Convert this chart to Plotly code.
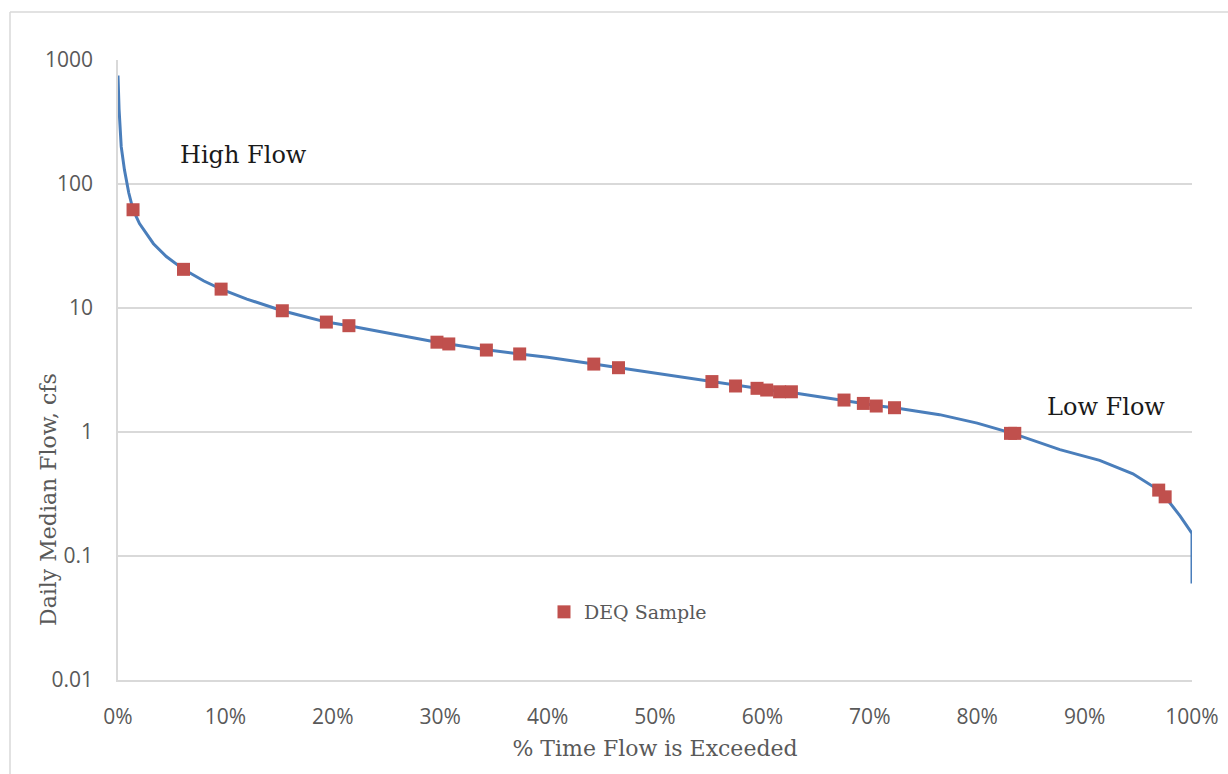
import plotly.graph_objects as go

# Flow duration curve (percent of time exceeded, daily median flow in cfs)
curve_pct = [0, 0.1, 0.3, 0.6, 1.0, 1.4, 2.0, 3.3, 4.5, 6.1, 8.0, 9.6, 12, 15.3, 17, 19.4,
             21.5, 25, 29.7, 30.8, 34.3, 37.4, 40, 44.3, 46.6, 49.5, 52, 55.3, 57.5, 59.5,
             61.6, 62.7, 65, 67.6, 69.4, 70.6, 72.3, 76.5, 80, 83.3, 87.7, 91.4, 94.5,
             96.9, 97.5, 98.9, 100, 100]
curve_flow = [750, 400, 200, 130, 85, 62, 48, 33, 26, 20.5, 16.5, 14.2, 11.8, 9.5, 8.7, 7.7,
              7.2, 6.3, 5.3, 5.13, 4.6, 4.26, 4.0, 3.53, 3.3, 3.0, 2.8, 2.55, 2.38, 2.25,
              2.12, 2.08, 1.95, 1.81, 1.70, 1.63, 1.57, 1.38, 1.18, 0.975, 0.72, 0.59, 0.46,
              0.34, 0.30, 0.21, 0.152, 0.06]

# DEQ samples
sample_pct = [1.4, 6.1, 9.6, 15.3, 19.4, 21.5, 29.7, 30.8, 34.3, 37.4, 44.3, 46.6,
              55.3, 57.5, 59.5, 60.4, 61.6, 62.7, 67.6, 69.4, 70.6, 72.3, 83.1, 83.5,
              96.9, 97.5]
sample_flow = [62, 20.5, 14.2, 9.5, 7.7, 7.2, 5.3, 5.13, 4.58, 4.26, 3.53, 3.30,
               2.55, 2.35, 2.25, 2.18, 2.11, 2.11, 1.81, 1.70, 1.62, 1.57, 0.975, 0.975,
               0.34, 0.30]

y_tickvals = [0.01, 0.1, 1, 10, 100, 1000]
y_ticktext = ["0.01", "0.1", "1", "10", "100", "1000"]
x_tickvals = [0, 10, 20, 30, 40, 50, 60, 70, 80, 90, 100]
x_ticktext = [f"{v}%" for v in x_tickvals]

W, H = 1228, 774
L, R, T, B = 118, 1192, 60, 680


def px(x):
    return (x - L) / (R - L)


def py(y):
    return (B - y) / (B - T)


GRID = "#D9D9D9"
TXT = "#595959"
SERIF = "DejaVu Serif"
SANS = "Open Sans"

fig = go.Figure()
fig.add_trace(go.Scatter(x=curve_pct, y=curve_flow, mode="lines",
                         line=dict(color="#4A7EBB", width=3),
                         showlegend=False, hoverinfo="skip"))
fig.add_trace(go.Scatter(x=sample_pct, y=sample_flow, mode="markers", name="DEQ Sample",
                         marker=dict(symbol="square", size=13, color="#C0504D",
                                     line=dict(width=0))))

fig.update_layout(
    width=W, height=H,
    margin=dict(l=L, r=W - R, t=T, b=H - B, pad=0, autoexpand=False),
    paper_bgcolor="white", plot_bgcolor="white",
    font=dict(family=SERIF, color=TXT),
    legend=dict(x=px(544), y=py(612), xanchor="left", yanchor="middle",
                bgcolor="rgba(0,0,0,0)", font=dict(family=SERIF, size=19, color=TXT),
                itemwidth=30),
    xaxis=dict(range=[0, 100], tickvals=x_tickvals, ticktext=x_ticktext, automargin=False,
               showgrid=False, zeroline=False, showline=True, linecolor=GRID, linewidth=1.5,
               ticks="outside", ticklen=17, tickcolor="rgba(0,0,0,0)",
               tickfont=dict(family=SANS, size=21, color=TXT),
               title=dict(text="% Time Flow is Exceeded",
                          font=dict(family=SERIF, size=22, color=TXT), standoff=12)),
    yaxis=dict(type="log", range=[-2, 3], tickvals=y_tickvals, ticktext=y_ticktext,
               automargin=False,
               showgrid=True, gridcolor=GRID, gridwidth=1.5, zeroline=False,
               showline=True, linecolor=GRID, linewidth=1.5,
               ticks="outside", ticklen=19, tickcolor="rgba(0,0,0,0)",
               tickfont=dict(family=SANS, size=21, color=TXT)),
    shapes=[
        dict(type="line", xref="paper", yref="paper", x0=px(10), x1=px(1260),
             y0=py(12), y1=py(12), line=dict(color=GRID, width=1.5)),
        dict(type="line", xref="paper", yref="paper", x0=px(10), x1=px(10),
             y0=py(12), y1=py(800), line=dict(color=GRID, width=1.5)),
    ],
    annotations=[
        dict(text="High Flow", xref="paper", yref="paper", x=px(243), y=py(155),
             xanchor="center", yanchor="middle",
             showarrow=False, font=dict(family=SERIF, size=24, color="#1a1a1a")),
        dict(text="Low Flow", xref="paper", yref="paper", x=px(1106), y=py(407),
             xanchor="center", yanchor="middle",
             showarrow=False, font=dict(family=SERIF, size=24, color="#1a1a1a")),
        dict(text="Daily Median Flow, cfs", xref="paper", yref="paper", x=px(48), y=py(500),
             xanchor="center", yanchor="middle",
             textangle=-90, showarrow=False, font=dict(family=SERIF, size=22, color=TXT)),
    ],
)

fig.write_html("out.html")
